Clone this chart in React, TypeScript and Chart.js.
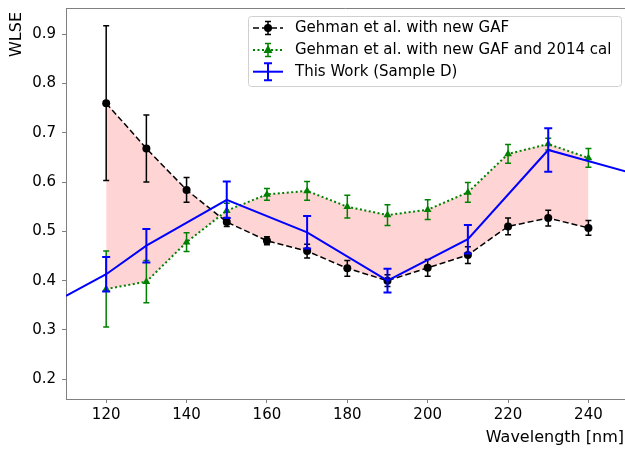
import React, { useEffect, useRef } from 'react';
import { Chart, registerables } from 'chart.js';

Chart.register(...registerables);

// ---- data ----
const wavelengths = [120, 130, 140, 150, 160, 170, 180, 190, 200, 210, 220, 230, 240];
const gehmanNewGaf = [0.760, 0.668, 0.584, 0.519, 0.481, 0.460, 0.425, 0.400, 0.426, 0.452, 0.510, 0.527, 0.507];
const gehmanNewGafErr = [0.157, 0.068, 0.025, 0.009, 0.008, 0.014, 0.016, 0.012, 0.017, 0.017, 0.017, 0.016, 0.015];
const gehmanCal2014 = [0.383, 0.398, 0.478, 0.542, 0.575, 0.582, 0.550, 0.533, 0.544, 0.579, 0.657, 0.677, 0.649];
const gehmanCal2014Err = [0.077, 0.043, 0.019, 0.015, 0.012, 0.019, 0.023, 0.021, 0.020, 0.020, 0.019, 0.012, 0.019];
const thisWorkX = [110, 120, 130, 150, 170, 190, 210, 230, 250];
const thisWorkY = [0.369, 0.413, 0.471, 0.564, 0.498, 0.400, 0.484, 0.665, 0.620];
const thisWorkErr = [0, 0.035, 0.034, 0.037, 0.033, 0.024, 0.029, 0.044, 0];

const xTicks = [120, 140, 160, 180, 200, 220, 240];
const yTicks = [0.2, 0.3, 0.4, 0.5, 0.6, 0.7, 0.8, 0.9];

const legendLabels = [
  'Gehman et al. with new GAF',
  'Gehman et al. with new GAF and 2014 cal',
  'This Work (Sample D)',
];
const xTitle = 'Wavelength [nm]';
const yTitle = 'WLSE';

const FONT = "'DejaVu Sans', sans-serif";
const SPINE = '#808080';

const errorsByDataset = [gehmanNewGafErr, gehmanCal2014Err, thisWorkErr];
const capByDataset = [3, 3, 4];
const errWidthByDataset = [1.5, 1.5, 2];

const errorBarPlugin = {
  id: 'errorBars',
  beforeDatasetDraw(chart: any, args: any) {
    const i = args.index;
    const errs = errorsByDataset[i];
    if (!errs) return;
    const ds = chart.data.datasets[i];
    const xs = chart.scales.x;
    const ys = chart.scales.y;
    const ctx = chart.ctx;
    ctx.save();
    ctx.beginPath();
    const a = chart.chartArea;
    ctx.rect(a.left, a.top, a.right - a.left, a.bottom - a.top);
    ctx.clip();
    ctx.strokeStyle = ds.borderColor;
    ctx.lineWidth = errWidthByDataset[i];
    ctx.setLineDash([]);
    ds.data.forEach((p: any, k: number) => {
      const e = errs[k];
      if (!e) return;
      const px = xs.getPixelForValue(p.x);
      const top = ys.getPixelForValue(p.y + e);
      const bot = ys.getPixelForValue(p.y - e);
      const c = capByDataset[i];
      ctx.beginPath();
      ctx.moveTo(px, top);
      ctx.lineTo(px, bot);
      ctx.moveTo(px - c, top);
      ctx.lineTo(px + c, top);
      ctx.moveTo(px - c, bot);
      ctx.lineTo(px + c, bot);
      ctx.stroke();
    });
    ctx.restore();
  },
};

function drawTriangle(ctx: CanvasRenderingContext2D, x: number, y: number, r: number) {
  ctx.beginPath();
  ctx.moveTo(x, y - r);
  ctx.lineTo(x + r * 0.9, y + r * 0.6);
  ctx.lineTo(x - r * 0.9, y + r * 0.6);
  ctx.closePath();
  ctx.fill();
}

const decorPlugin = {
  id: 'decor',
  afterDraw(chart: any) {
    const ctx: CanvasRenderingContext2D = chart.ctx;
    const a = chart.chartArea;
    ctx.save();
    // top spine
    ctx.strokeStyle = SPINE;
    ctx.lineWidth = 1;
    ctx.beginPath();
    ctx.moveTo(a.left, Math.round(a.top) + 0.5);
    ctx.lineTo(a.right, Math.round(a.top) + 0.5);
    ctx.stroke();

    // axis titles
    ctx.fillStyle = '#000';
    ctx.font = `16px ${FONT}`;
    ctx.textAlign = 'right';
    ctx.textBaseline = 'middle';
    ctx.fillText(xTitle, 624, 438);
    ctx.save();
    ctx.translate(17, 34.5);
    ctx.rotate(-Math.PI / 2);
    ctx.textAlign = 'center';
    ctx.fillText(yTitle, 0, 0);
    ctx.restore();

    // legend box
    const x0 = 248.5, y0 = 16.5, w = 373, h = 70, r = 3;
    ctx.beginPath();
    ctx.moveTo(x0 + r, y0);
    ctx.lineTo(x0 + w - r, y0);
    ctx.arcTo(x0 + w, y0, x0 + w, y0 + r, r);
    ctx.lineTo(x0 + w, y0 + h - r);
    ctx.arcTo(x0 + w, y0 + h, x0 + w - r, y0 + h, r);
    ctx.lineTo(x0 + r, y0 + h);
    ctx.arcTo(x0, y0 + h, x0, y0 + h - r, r);
    ctx.lineTo(x0, y0 + r);
    ctx.arcTo(x0, y0, x0 + r, y0, r);
    ctx.closePath();
    ctx.fillStyle = 'rgba(255,255,255,0.8)';
    ctx.fill();
    ctx.strokeStyle = '#d0d0d0';
    ctx.stroke();

    const rows = [28, 50, 71.7];
    const colors = ['#000000', '#008000', '#0000ff'];
    const dashes = [[6, 3], [2, 2.5], []];
    const widths = [1.5, 2, 2];
    const errH = [6.5, 6.5, 8.5];
    rows.forEach((yy, i) => {
      ctx.strokeStyle = colors[i];
      ctx.fillStyle = colors[i];
      ctx.lineWidth = widths[i];
      ctx.setLineDash(dashes[i]);
      ctx.beginPath();
      ctx.moveTo(253, yy);
      ctx.lineTo(283, yy);
      ctx.stroke();
      ctx.setLineDash([]);
      ctx.lineWidth = errWidthByDataset[i];
      const c = capByDataset[i];
      ctx.beginPath();
      ctx.moveTo(268, yy - errH[i]);
      ctx.lineTo(268, yy + errH[i]);
      ctx.moveTo(268 - c, yy - errH[i]);
      ctx.lineTo(268 + c, yy - errH[i]);
      ctx.moveTo(268 - c, yy + errH[i]);
      ctx.lineTo(268 + c, yy + errH[i]);
      ctx.stroke();
      if (i === 0) {
        ctx.beginPath();
        ctx.arc(268, yy, 4, 0, Math.PI * 2);
        ctx.fill();
      } else if (i === 1) {
        drawTriangle(ctx, 268, yy, 5);
      }
      ctx.fillStyle = '#000';
      ctx.font = `15px ${FONT}`;
      ctx.textAlign = 'left';
      ctx.textBaseline = 'middle';
      ctx.fillText(legendLabels[i], 295, yy + 0.5);
    });
    ctx.restore();
  },
};

export default function App() {
  const ref = useRef<HTMLCanvasElement>(null);
  useEffect(() => {
    document.body.style.margin = '0';
    document.body.style.overflow = 'hidden';
    const canvas = ref.current!;
    const chart = new Chart(canvas, {
      type: 'line',
      data: {
        datasets: [
          {
            label: legendLabels[0],
            data: wavelengths.map((x, i) => ({ x, y: gehmanNewGaf[i] })),
            borderColor: '#000000',
            backgroundColor: 'rgba(255,0,0,0.17)',
            borderWidth: 1.5,
            borderDash: [6, 3],
            pointStyle: 'circle',
            pointRadius: 4,
            pointBackgroundColor: '#000000',
            pointBorderColor: '#000000',
            pointBorderWidth: 0,
            fill: { target: '+1' },
            order: 3,
          },
          {
            label: legendLabels[1],
            data: wavelengths.map((x, i) => ({ x, y: gehmanCal2014[i] })),
            borderColor: '#008000',
            backgroundColor: '#008000',
            borderWidth: 2,
            borderDash: [2, 2.5],
            pointStyle: 'triangle',
            pointRadius: 4.5,
            pointBackgroundColor: '#008000',
            pointBorderColor: '#008000',
            pointBorderWidth: 0,
            fill: false,
            order: 2,
          },
          {
            label: legendLabels[2],
            data: thisWorkX.map((x, i) => ({ x, y: thisWorkY[i] })),
            borderColor: '#0000ff',
            backgroundColor: '#0000ff',
            borderWidth: 2,
            pointRadius: 0,
            fill: false,
            order: 1,
          },
        ],
      },
      options: {
        responsive: false,
        animation: false,
        devicePixelRatio: 1,
        layout: { padding: { top: 8, left: 0, right: 0, bottom: 0 }, autoPadding: false },
        plugins: {
          legend: { display: false },
          tooltip: { enabled: false },
        },
        elements: { line: { tension: 0 } },
        scales: {
          x: {
            type: 'linear',
            min: 110,
            max: 249.1,
            border: { display: true, color: SPINE, width: 1 },
            grid: { display: true, drawOnChartArea: false, drawTicks: true, tickLength: 4, color: SPINE, tickColor: SPINE },
            ticks: { color: '#000', font: { family: FONT, size: 15 }, padding: 3, maxRotation: 0 },
            afterBuildTicks: (s: any) => { s.ticks = xTicks.map((v) => ({ value: v })); },
            afterFit: (s: any) => { s.height = 52; s.paddingLeft = 0; s.paddingRight = 0; },
          },
          y: {
            type: 'linear',
            min: 0.16,
            max: 0.953,
            border: { display: true, color: SPINE, width: 1 },
            grid: { display: true, drawOnChartArea: false, drawTicks: true, tickLength: 4, color: SPINE, tickColor: SPINE },
            ticks: {
              color: '#000',
              font: { family: FONT, size: 15 },
              padding: 6,
              callback: (v: any) => Number(v).toFixed(1),
            },
            afterBuildTicks: (s: any) => { s.ticks = yTicks.map((v) => ({ value: v })); },
            afterFit: (s: any) => { s.width = 66; s.paddingTop = 0; s.paddingBottom = 0; },
          },
        },
      },
      plugins: [errorBarPlugin, decorPlugin],
    } as any);
    return () => chart.destroy();
  }, []);
  return <canvas ref={ref} width={625} height={451} style={{ display: 'block' }} />;
}
